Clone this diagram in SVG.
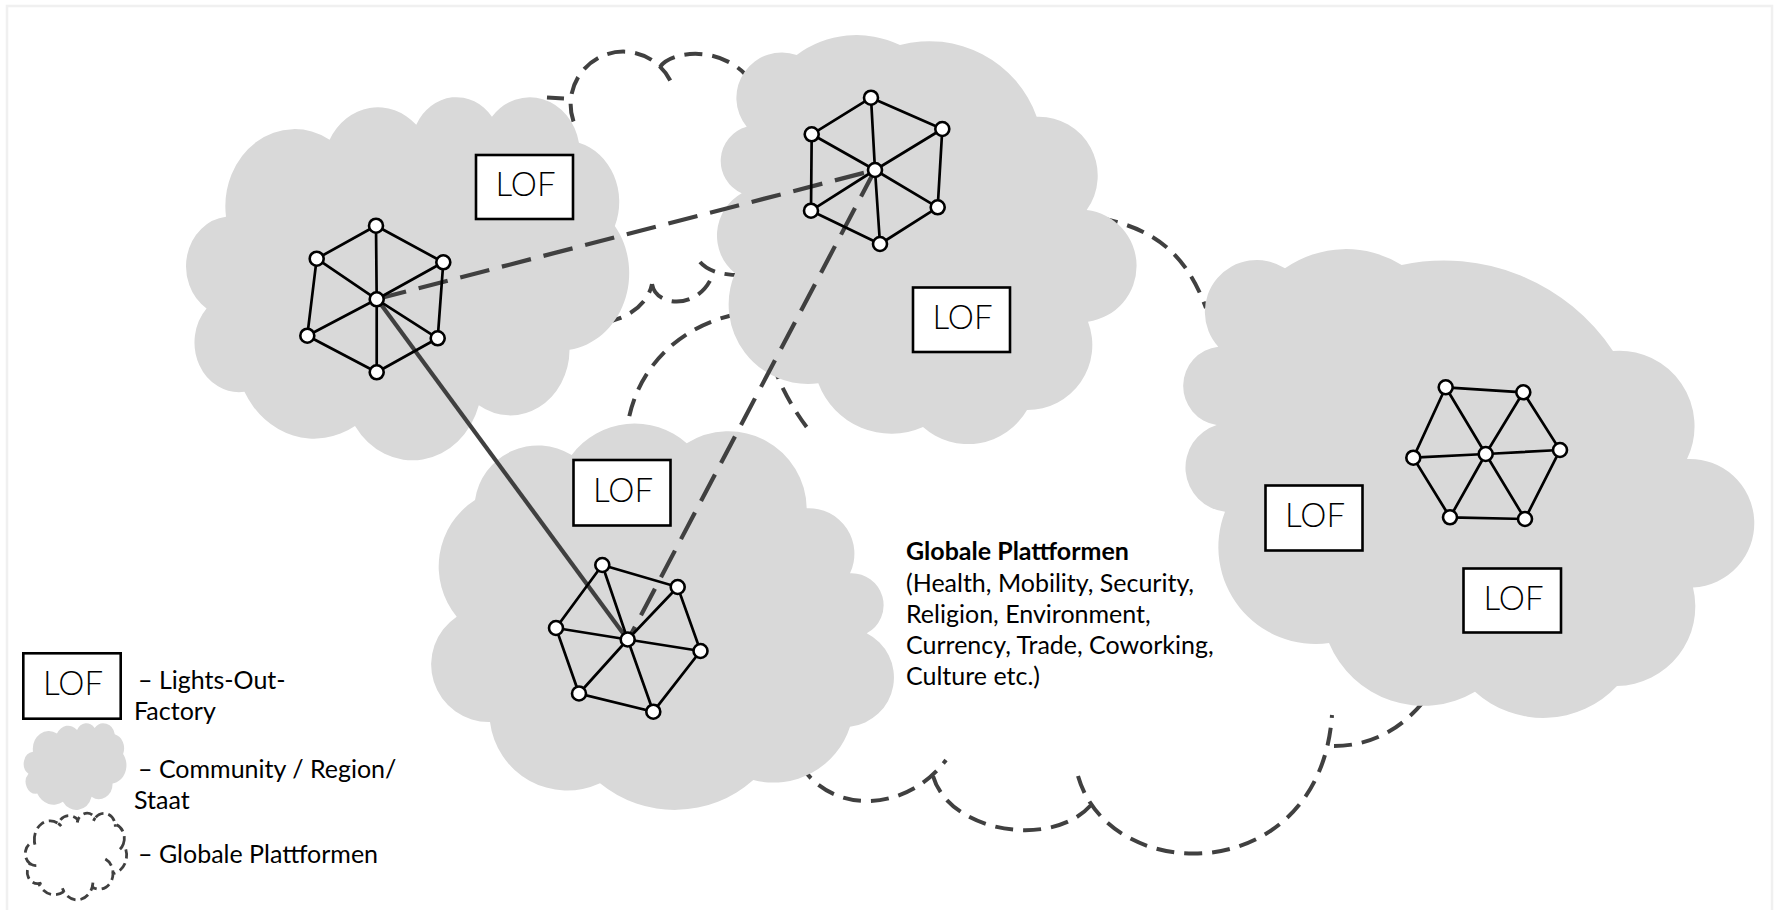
<svg xmlns="http://www.w3.org/2000/svg" xmlns:xlink="http://www.w3.org/1999/xlink" width="1776" height="910" viewBox="0 0 1776 910">
<style>
.cloud{fill:#d9d9d9;stroke:none}
.plat{fill:none;stroke:#404040;stroke-width:4;stroke-dasharray:18 10}
.plat-s{fill:none;stroke:#404040;stroke-width:2.8;stroke-dasharray:9 5}
.box{fill:#fff;stroke:#000;stroke-width:2.6}
.lof{font-family:Lato,'Open Sans','Liberation Sans',sans-serif;font-weight:300;font-size:33px;fill:#000;text-anchor:middle}
.edge{stroke:#000;stroke-width:2.7;fill:none}
.node{fill:#fff;stroke:#000;stroke-width:2.6}
.link{stroke:#404040;stroke-width:4.2;fill:none}
.dash{stroke-dasharray:30 13}
.txt{font-family:Lato,'Open Sans','Liberation Sans',sans-serif;font-size:25px;fill:#000}
</style>
<defs>
<path id="std-cloud" d="M90.3,332.6 A156.3,212.7 0 0 1 324.2,120.4 A123.4,168.2 0 0 1 519.8,79.5 A101,137.6 0 0 1 690.6,57.4 A112.4,152.7 0 0 1 887,129.1 A123.4,168.4 0 0 1 968,357.9 A156.8,213.4 0 0 1 865.8,699.2 A133.9,182.1 0 0 1 661,852.2 A156.3,213.3 0 0 1 381.5,909 A178.7,244.1 0 0 1 131.9,815 A100.9,137 0 0 1 46.4,585.3 A100.6,137.6 0 0 1 90.3,332.6 Z"/>
</defs>
<rect x="0" y="0" width="1776" height="910" fill="#fff"/>
<rect x="7" y="6" width="1765" height="930" fill="none" stroke="#f0f0f0" stroke-width="2.5"/>

<g id="platform-outline">
<path class="plat" d="M547,97.5 L564,98.5"/>
<path class="plat" d="M573.5,121.5 A52.6,52.6 0 0 1 673,87"/>
<path class="plat" d="M660,67 C670,52 715,45 744,73 L758,95"/>
<path class="plat" d="M604,322 C625,320 648,305 652,284"/>
<path class="plat" d="M652,284 C656,308 700,310 713,274"/>
<path class="plat" d="M700,262 Q712,276 745,275 L762,276"/>
<path class="plat" d="M738,314 C680,325 630,370 626,440"/>
<path class="plat" d="M772,362 Q785,400 812,434"/>
<path class="plat" d="M1100,218 C1150,228 1185,250 1206,308"/>
<path class="plat" d="M800,764 C830,814 905,814 946,760"/>
<path class="plat" d="M933,776 C950,835 1060,850 1095,800"/>
<path class="plat" d="M1078,776 C1110,888 1320,888 1332,715"/>
<path class="plat" d="M1334,746 C1370,746 1405,730 1432,690"/>
</g>

<g id="cloud-1">
<use xlink:href="#std-cloud" class="cloud" transform="translate(186,96) scale(0.443,0.363)"/>
</g>
<g id="cloud-2">
<path class="cloud" d="M796.7,55 A100,100 0 0 1 900,45 A114,114 0 0 1 1036.7,116.7 A59,59 0 0 1 1086.7,210 A56.3,56.3 0 0 1 1088,321.7 A65,65 0 0 1 1027,410 A68,68 0 0 1 923,427 A78,78 0 0 1 818.3,383.3 A79.5,79.5 0 0 1 735,273.3 A48.5,48.5 0 0 1 741.7,193.3 A35.5,35.5 0 0 1 746.7,126.7 A45.4,45.4 0 0 1 796.7,55 Z"/>
</g>
<g id="cloud-3">
<path class="cloud" d="M571.7,455 A78.5,78.5 0 0 1 686.7,443.3 A78.2,78.2 0 0 1 806.7,508.3 A45.5,45.5 0 0 1 850,573.3 A31.9,31.9 0 0 1 866.7,633.3 A49.5,49.5 0 0 1 850,726.7 A80.3,80.3 0 0 1 753.3,780 A118.3,118.3 0 0 1 600,783.3 A77.9,77.9 0 0 1 490,722 A57.5,57.5 0 0 1 456.7,616.7 A79,79 0 0 1 475,500 A63.7,63.7 0 0 1 571.7,455 Z"/>
</g>
<g id="cloud-4">
<path class="cloud" d="M1285,268.3 A106,106 0 0 1 1401.7,265 A203,203 0 0 1 1613,351 A75.4,75.4 0 0 1 1687,459 A64.3,64.3 0 0 1 1693,587.5 A79.5,79.5 0 0 1 1617,686 A101.5,101.5 0 0 1 1475,691.7 A102,102 0 0 1 1329,643 A97,97 0 0 1 1225,511.7 A44.5,44.5 0 0 1 1216.7,425 A39.5,39.5 0 0 1 1218.3,346.7 A51.9,51.9 0 0 1 1285,268.3 Z"/>
</g>

<g id="lof-1"><rect class="box" x="476" y="155" width="97" height="64"/><text class="lof" x="525.5" y="196">LOF</text></g>
<g id="lof-2"><rect class="box" x="913" y="287.5" width="97" height="64.5"/><text class="lof" x="962.5" y="328.5">LOF</text></g>
<g id="lof-3"><rect class="box" x="573.5" y="460" width="97" height="65.5"/><text class="lof" x="623" y="501.5">LOF</text></g>
<g id="lof-4"><rect class="box" x="1265.5" y="485.5" width="97" height="65"/><text class="lof" x="1315" y="526.5">LOF</text></g>
<g id="lof-5"><rect class="box" x="1463.5" y="568.5" width="97.5" height="64"/><text class="lof" x="1513.5" y="609.5">LOF</text></g>

<g id="connectors">
<path class="link dash" d="M377,299 L875,170"/>
<path class="link dash" d="M875,170 L628,640"/>
<path class="link" stroke-width="3.2" d="M377,299 L628,640"/>
</g>

<g id="network-1">
<path class="edge" d="M376.7,299.3 L376,225.7 M376.7,299.3 L316.7,258.7 M376.7,299.3 L443.3,262.3 M376.7,299.3 L307.3,335.7 M376.7,299.3 L437.7,338.3 M376.7,299.3 L376.7,372.3 M376,225.7 L316.7,258.7 M376,225.7 L443.3,262.3 M316.7,258.7 L307.3,335.7 M443.3,262.3 L437.7,338.3 M307.3,335.7 L376.7,372.3 M437.7,338.3 L376.7,372.3"/>
<circle class="node" cx="376.7" cy="299.3" r="7"/><circle class="node" cx="376" cy="225.7" r="7"/><circle class="node" cx="316.7" cy="258.7" r="7"/><circle class="node" cx="443.3" cy="262.3" r="7"/><circle class="node" cx="307.3" cy="335.7" r="7"/><circle class="node" cx="437.7" cy="338.3" r="7"/><circle class="node" cx="376.7" cy="372.3" r="7"/>
</g>
<g id="network-2">
<path class="edge" d="M875,170 L871,97.7 M875,170 L811.7,134.3 M875,170 L942.3,129 M875,170 L811,210.7 M875,170 L937.7,207.3 M875,170 L880,244 M871,97.7 L811.7,134.3 M871,97.7 L942.3,129 M811.7,134.3 L811,210.7 M942.3,129 L937.7,207.3 M811,210.7 L880,244 M937.7,207.3 L880,244"/>
<circle class="node" cx="875" cy="170" r="7"/><circle class="node" cx="871" cy="97.7" r="7"/><circle class="node" cx="811.7" cy="134.3" r="7"/><circle class="node" cx="942.3" cy="129" r="7"/><circle class="node" cx="811" cy="210.7" r="7"/><circle class="node" cx="937.7" cy="207.3" r="7"/><circle class="node" cx="880" cy="244" r="7"/>
</g>
<g id="network-3">
<path class="edge" d="M627.7,639.5 L602.3,565 M627.7,639.5 L677.7,587 M627.7,639.5 L700.5,651 M627.7,639.5 L653.3,711.7 M627.7,639.5 L579,693.5 M627.7,639.5 L556,628 M602.3,565 L677.7,587 L700.5,651 L653.3,711.7 L579,693.5 L556,628 Z"/>
<circle class="node" cx="627.7" cy="639.5" r="7"/><circle class="node" cx="602.3" cy="565" r="7"/><circle class="node" cx="677.7" cy="587" r="7"/><circle class="node" cx="700.5" cy="651" r="7"/><circle class="node" cx="653.3" cy="711.7" r="7"/><circle class="node" cx="579" cy="693.5" r="7"/><circle class="node" cx="556" cy="628" r="7"/>
</g>
<g id="network-4">
<path class="edge" d="M1485.7,454 L1445.7,387.3 M1485.7,454 L1523.3,392.3 M1485.7,454 L1560,450 M1485.7,454 L1525,519 M1485.7,454 L1450,517.3 M1485.7,454 L1413.3,457.7 M1445.7,387.3 L1523.3,392.3 L1560,450 L1525,519 L1450,517.3 L1413.3,457.7 Z"/>
<circle class="node" cx="1485.7" cy="454" r="7"/><circle class="node" cx="1445.7" cy="387.3" r="7"/><circle class="node" cx="1523.3" cy="392.3" r="7"/><circle class="node" cx="1560" cy="450" r="7"/><circle class="node" cx="1525" cy="519" r="7"/><circle class="node" cx="1450" cy="517.3" r="7"/><circle class="node" cx="1413.3" cy="457.7" r="7"/>
</g>

<g id="platform-label">
<text class="txt" x="906" y="560" font-weight="bold">Globale Plattformen</text>
<text class="txt" x="906" y="591.5">(Health, Mobility, Security,</text>
<text class="txt" x="906" y="622.5">Religion, Environment,</text>
<text class="txt" x="906" y="653.5">Currency, Trade, Coworking,</text>
<text class="txt" x="906" y="685">Culture etc.)</text>
</g>

<g id="legend">
<g id="legend-lof"><rect class="box" x="23.3" y="653.3" width="97.4" height="65.4"/><text class="lof" x="73" y="695">LOF</text></g>
<text class="txt" x="138" y="688.5">– Lights-Out-</text>
<text class="txt" x="134" y="720">Factory</text>
<g id="legend-cloud"><use xlink:href="#std-cloud" class="cloud" transform="translate(23.7,723) scale(0.1027,0.0866)"/></g>
<text class="txt" x="138" y="777.5">– Community / Region/</text>
<text class="txt" x="134" y="808.5">Staat</text>
<g id="legend-platform">
<path class="plat-s" d="M34.45,841.8 A15.83,18.42 0 0 1 58.14,823.43 A12.5,14.57 0 0 1 77.96,819.88 A10.23,11.92 0 0 1 95.26,817.97 A11.39,13.22 0 0 1 115.15,824.18 A12.5,14.58 0 0 1 123.36,843.99 A15.88,18.48 0 0 1 113.01,873.55 A13.56,15.77 0 0 1 92.26,886.8 A15.83,18.47 0 0 1 63.95,891.72 A18.1,21.14 0 0 1 38.66,883.58 A10.22,11.86 0 0 1 30,863.69 A10.19,11.92 0 0 1 34.45,841.8 Z"/>
<path class="plat-s" stroke-dasharray="none" d="M36.3,865.48 A10.19,11.92 0 0 1 30,863.69 M41.55,882.95 A10.22,11.86 0 0 1 38.66,883.58 M63.94,891.36 A15.83,18.47 0 0 1 62.38,888.23 M92.9,882.66 A15.83,18.47 0 0 1 92.26,886.8 M105.33,859.01 A13.56,15.77 0 0 1 113.01,873.55 M123.36,843.99 A12.5,14.58 0 0 1 119.97,849.35 M115.15,824.18 A11.39,13.22 0 0 1 115.33,826.72 M93.48,820.92 A11.39,13.22 0 0 1 95.26,817.97 M77.22,822.47 A10.23,11.92 0 0 1 77.96,819.88 M58.14,823.43 A15.83,18.42 0 0 1 61.19,826.14 M34.97,844.65 A15.83,18.42 0 0 1 34.45,841.8"/>
</g>
<text class="txt" x="138" y="863">– Globale Plattformen</text>
</g>
</svg>
